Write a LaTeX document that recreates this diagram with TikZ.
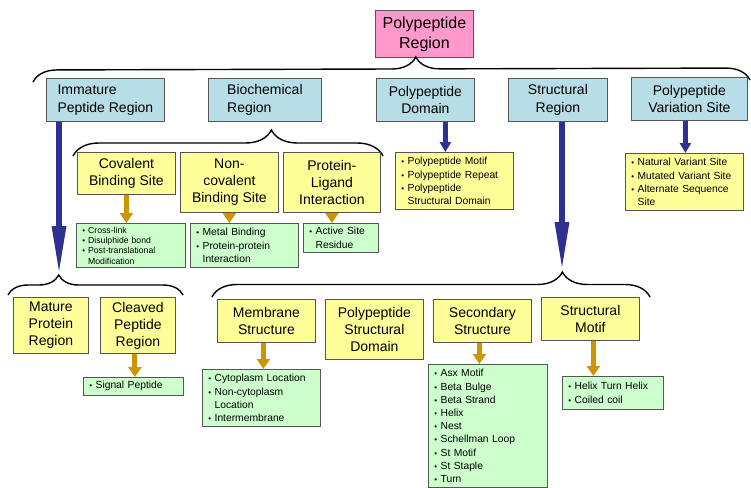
\documentclass[tikz,border=0pt]{standalone}
\usepackage{fontspec}
\setmainfont{Liberation Sans}
\usepackage{xcolor}
\definecolor{prpink}{RGB}{255,153,204}
\definecolor{prblue}{RGB}{183,221,230}
\definecolor{pryellow}{RGB}{255,255,153}
\definecolor{prgreen}{RGB}{204,255,204}
\definecolor{prnavy}{RGB}{46,49,146}
\definecolor{prgold}{RGB}{204,150,0}
\definecolor{predge}{RGB}{85,85,85}
\usepackage{tikz}
\usetikzlibrary{arrows.meta, positioning, decorations.pathreplacing}

\newcommand{\pbul}{{\footnotesize\textbullet}\ }

\tikzset{
  box/.style={draw=predge, line width=0.8pt, anchor=north west, inner sep=2pt, align=center},
  toplvl/.style={box, fill=prpink, font=\fontsize{16}{20}\selectfont},
  catbox/.style={box, fill=prblue, minimum height=43pt, font=\fontsize{14}{17.5}\selectfont},
  subbox/.style={box, fill=pryellow, font=\fontsize{14}{17}\selectfont},
  listbox/.style={box, fill=prgreen, align=left, inner xsep=6pt, inner ysep=5pt,
                  text width=#1, font=\fontsize{10.3}{13.2}\selectfont},
  brc/.style n args={2}{decorate, line width=1.4pt, decoration={brace, amplitude=#1, aspect=#2}},
  navyarrow/.style={draw=prnavy, line width=6pt, -{Triangle[length=50pt, width=13pt]}},
  shortnavy/.style={draw=prnavy, line width=5pt, -{Triangle[length=10pt, width=11pt]}},
  goldarrow/.style={draw=prgold, line width=5pt, -{Triangle[length=10pt, width=13pt]}},
}

\begin{document}
\begin{tikzpicture}[x=1pt, y=-1pt]
      \clip (0,0) rectangle (751,487);
      % Root at top
      \node[toplvl, minimum width=98pt, minimum height=47pt] (poly) at (375,10) {Polypeptide\\Region};
      \draw[brc={24pt}{0.534}] (33,82) -- (750,80);
      % Five categories
      \node[catbox, align=left, minimum width=118pt] (imm) at (46,78) {Immature\\Peptide Region};
      \node[catbox, align=left, minimum width=113pt] (bio) at (208,78) {Biochemical\\Region};
      \node[catbox, minimum width=98pt] (pdom) at (376,78) {Polypeptide\\Domain};
      \node[catbox, minimum width=99pt] (struct) at (508,78) {Structural\\Region};
      \node[catbox, minimum width=116pt] (pvar) at (631,77) {Polypeptide\\Variation Site};
      % Biochemical region below
      \draw[brc={26pt}{0.64}] (73,156) -- (383,156);
      \node[subbox, minimum width=98pt, minimum height=42pt] (cov) at (77,152) {Covalent\\Binding Site};
      \node[subbox, minimum width=98pt, minimum height=60pt] (ncov) at (180,152) {Non-\\covalent\\Binding Site};
      \node[subbox, minimum width=97pt, minimum height=60pt] (plig) at (283,152) {Protein-\\Ligand\\Interaction};
      \node[listbox=97pt, inner ysep=3.5pt, font=\fontsize{8.7}{10.3}\selectfont] (covlist) at (76,223)
            {\pbul Cross-link\\\pbul Disulphide bond\\\pbul Post-translational\\\phantom{\pbul}Modification};
      \node[listbox=96pt] (ncovlist) at (190,223)
            {\pbul Metal Binding\\\pbul Protein-protein\\\phantom{\pbul}Interaction};
      \node[listbox=63pt, inner ysep=4pt] (actlist) at (303,223) {\pbul Active Site\\\phantom{\pbul}Residue};
      \draw[goldarrow] (cov.south) -- (cov.south |- covlist.north);
      \draw[goldarrow] (ncov.south) -- (ncov.south |- ncovlist.north);
      \draw[goldarrow] (plig.south) -- (plig.south |- actlist.north);
      % Domain and variation lists
      \node[listbox=106pt, fill=pryellow] (pdomlist) at (395,152)
            {\pbul Polypeptide Motif\\\pbul Polypeptide Repeat\\\pbul Polypeptide\\\phantom{\pbul}Structural Domain};
      \node[listbox=106pt, fill=pryellow] (pvarlist) at (625,153)
            {\pbul Natural Variant Site\\\pbul Mutated Variant Site\\\pbul Alternate Sequence\\\phantom{\pbul}Site};
      \draw[shortnavy] ([xshift=20pt]pdom.south) -- ([xshift=20pt]pdom.south |- pdomlist.north);
      \draw[shortnavy] ([xshift=-4pt]pvar.south) -- ([xshift=-4pt]pvar.south |- pvarlist.north);
      % Immature peptide region
      \coordinate (mbrtip) at (59,276);
      \draw[brc={20pt}{0.29}] (8,295) -- (183,295);
      \draw[navyarrow] (imm.south -| mbrtip) -- (mbrtip);
      \node[subbox, minimum width=75pt, minimum height=56pt] (mature) at (13,297) {Mature\\Protein\\Region};
      \node[subbox, minimum width=75pt, minimum height=56pt] (cleaved) at (100,297) {Cleaved\\Peptide\\Region};
      \node[listbox=88pt, inner ysep=4pt] (siglist) at (83,377) {\pbul Signal Peptide};
      \draw[goldarrow] ([xshift=-3pt]cleaved.south) -- ([xshift=-3pt]cleaved.south |- siglist.north);
      % Structural region
      \coordinate (sbrtip) at (562,272);
      \draw[brc={25pt}{0.80}] (212,297) -- (650,297);
      \draw[navyarrow] (struct.south -| sbrtip) -- (sbrtip);
      \node[subbox, minimum width=98pt, minimum height=43pt] (memb) at (217,299) {Membrane\\Structure};
      \node[subbox, minimum width=98pt, minimum height=60pt] (psd) at (325,299) {Polypeptide\\Structural\\Domain};
      \node[subbox, minimum width=98pt, minimum height=43pt] (sec) at (433,299) {Secondary\\Structure};
      \node[subbox, minimum width=98pt, minimum height=43pt] (smotif) at (541,297) {Structural\\Motif};
      \node[listbox=106pt] (cytlist) at (202,369)
            {\pbul Cytoplasm Location\\\pbul Non-cytoplasm\\\phantom{\pbul}Location\\\pbul Intermembrane};
      \node[listbox=107pt] (seclist) at (428,364)
            {\pbul Asx Motif\\\pbul Beta Bulge\\\pbul Beta Strand\\\pbul Helix\\\pbul Nest\\\pbul Schellman Loop\\\pbul St Motif\\\pbul St Staple\\\pbul Turn};
      \node[listbox=89pt, inner ysep=6pt] (hthlist) at (562,376) {\pbul Helix Turn Helix\\\pbul Coiled coil};
      \draw[goldarrow] ([xshift=-3pt]memb.south) -- ([xshift=-3pt]memb.south |- cytlist.north);
      \draw[goldarrow] ([xshift=-3pt]sec.south) -- ([xshift=-3pt]sec.south |- seclist.north);
      \draw[goldarrow] ([xshift=3pt]smotif.south) -- ([xshift=3pt]smotif.south |- hthlist.north);
\end{tikzpicture}
\end{document}
